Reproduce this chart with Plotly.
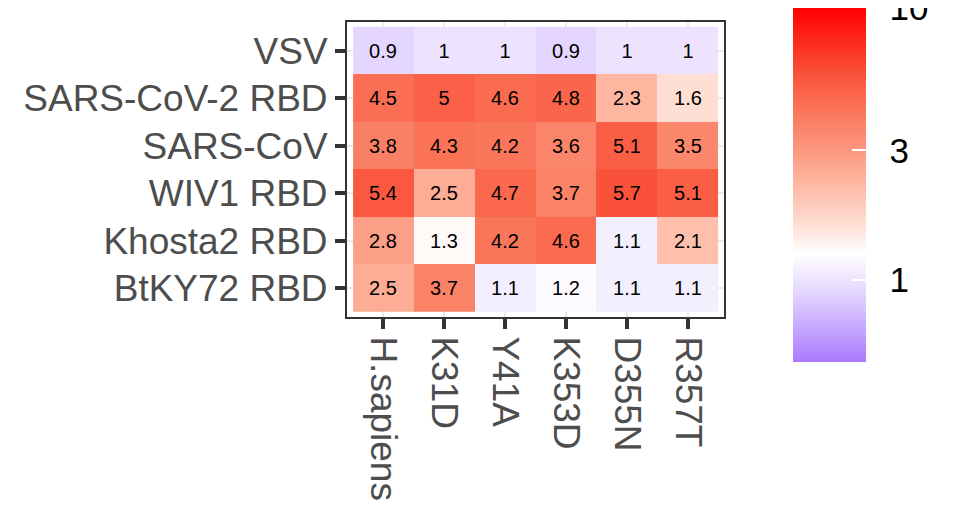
import numpy as np
import plotly.graph_objects as go

# rows top to bottom, columns left to right
rbds = ["VSV", "SARS-CoV-2 RBD", "SARS-CoV", "WIV1 RBD", "Khosta2 RBD", "BtKY72 RBD"]
receptors = ["H.sapiens", "K31D", "Y41A", "K353D", "D355N", "R357T"]

vsv = [0.9, 1, 1, 0.9, 1, 1]
sars2 = [4.5, 5, 4.6, 4.8, 2.3, 1.6]
sars1 = [3.8, 4.3, 4.2, 3.6, 5.1, 3.5]
wiv1 = [5.4, 2.5, 4.7, 3.7, 5.7, 5.1]
khosta2 = [2.8, 1.3, 4.2, 4.6, 1.1, 2.1]
btky72 = [2.5, 3.7, 1.1, 1.2, 1.1, 1.1]

cbar_ticks = [1, 3, 10]
fill_limits = [0.5, 10]

vals = np.array([vsv, sars2, sars1, wiv1, khosta2, btky72], dtype=float)
labels = [[f"{v:g}" for v in row] for row in vals]
logz = np.log10(vals)

# purple -> white -> red, on log scale
cscale = [
    [0.0, "rgb(170,122,255)"],
    [0.196, "rgb(228,214,255)"],
    [0.306, "rgb(255,255,255)"],
    [0.388, "rgb(255,222,212)"],
    [0.509, "rgb(254,182,160)"],
    [0.598, "rgb(251,151,126)"],
    [0.710, "rgb(250,118,90)"],
    [0.812, "rgb(250,82,58)"],
    [1.0, "rgb(255,0,0)"],
]

cbar_base = dict(
    tickvals=np.log10(cbar_ticks),
    thickness=73, thicknessmode="pixels",
    len=354, lenmode="pixels",
    x=1.183, xanchor="left",
    y=1.047, yanchor="top",
    xpad=0, ypad=0,
    outlinewidth=0,
)

fig = go.Figure()
fig.add_trace(go.Heatmap(
    z=logz, x=receptors, y=rbds,
    text=labels,
    texttemplate="%{text}",
    textfont=dict(size=20, color="black", family="Liberation Sans"),
    colorscale=cscale,
    zmin=np.log10(fill_limits[0]), zmax=np.log10(fill_limits[1]),
    colorbar=dict(
        **cbar_base,
        ticktext=[str(t) for t in cbar_ticks],
        ticks="outside", ticklen=17, tickcolor="rgba(0,0,0,0)",
        tickfont=dict(size=35, color="black", family="Liberation Sans"),
        ticklabeloverflow="allow",
    ),
))
# invisible copy, only there to put the short white ticks on the legend bar
fig.add_trace(go.Heatmap(
    z=logz, x=receptors, y=rbds,
    colorscale=cscale, hoverinfo="skip", opacity=0,
    zmin=np.log10(fill_limits[0]), zmax=np.log10(fill_limits[1]),
    colorbar=dict(
        **cbar_base,
        ticks="inside", ticklen=14, tickcolor="white", tickwidth=1.5,
        showticklabels=False,
    ),
))

axis_style = dict(
    showline=True, mirror=True, linecolor="#333333", linewidth=2,
    ticks="outside", ticklen=10, tickwidth=3.5, tickcolor="#333333",
    showgrid=True, gridcolor="#EBEBEB", gridwidth=2,
    tickfont=dict(size=37, color="#4D4D4D", family="Liberation Sans"),
    zeroline=False, automargin=False,
)

fig.update_xaxes(**axis_style, tickangle=90, range=[-0.6, 5.6])
fig.update_yaxes(**axis_style, range=[5.6, -0.6])

fig.update_layout(
    width=975, height=525,
    margin=dict(l=339, r=259, t=14, b=216, autoexpand=False),
    plot_bgcolor="white", paper_bgcolor="white",
    font=dict(family="Liberation Sans"),
)

fig.write_html("out.html")
